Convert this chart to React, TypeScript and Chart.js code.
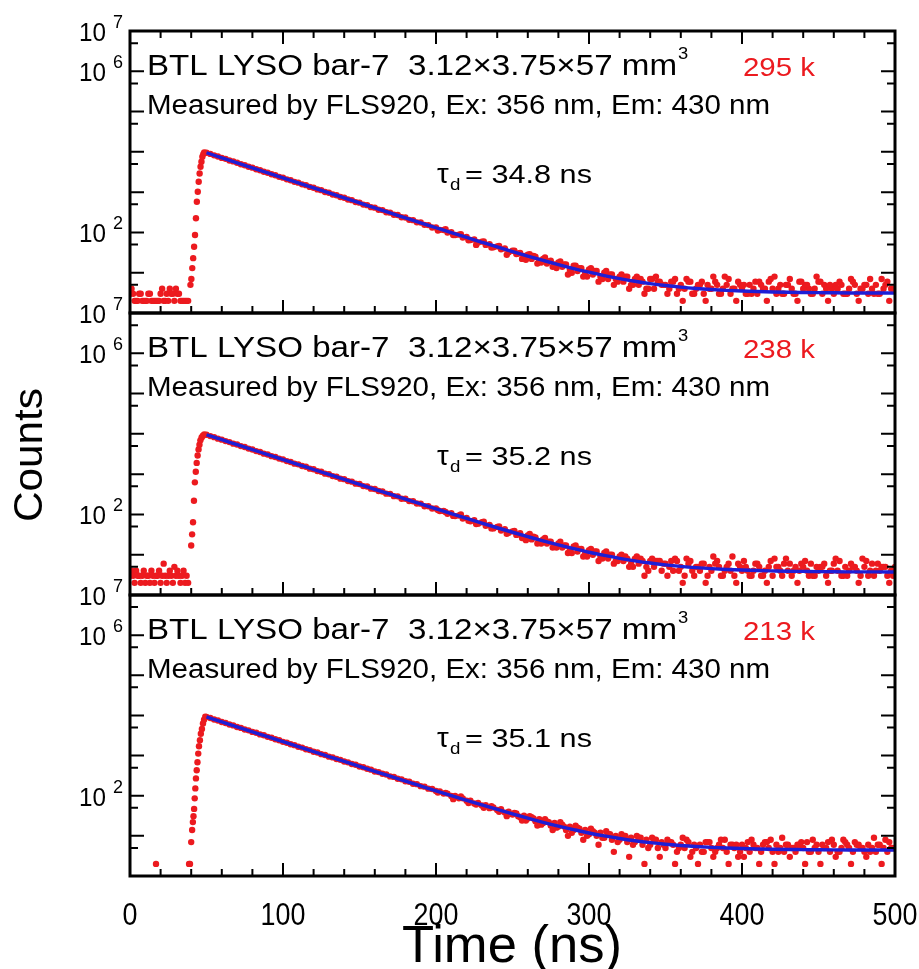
import React, { useEffect, useRef } from 'react';
import { Chart, registerables } from 'chart.js';

Chart.register(...registerables);

// ---------------- data ----------------
const panelCounts = ['295 k', '238 k', '213 k'];
const panelTaus = ['34.8', '35.2', '35.1'];
const yLabelExponents = [7, 6, 2];
const xTickLabels = [0, 100, 200, 300, 400, 500];

// time grid of the decaying part (ns)
const decayTime = [
  50, 52.5, 55, 57.5, 60, 62.5, 65, 67.5, 70, 72.5, 75, 77.5, 80, 82.5, 85, 87.5, 90, 92.5, 95, 97.5,
  100, 102.5, 105, 107.5, 110, 112.5, 115, 117.5, 120, 122.5, 125, 127.5, 130, 132.5, 135, 137.5, 140, 142.5, 145, 147.5,
  150, 152.5, 155, 157.5, 160, 162.5, 165, 167.5, 170, 172.5, 175, 177.5, 180, 182.5, 185, 187.5, 190, 192.5, 195, 197.5,
  200, 202.5, 205, 207.5, 210, 212.5, 215, 217.5, 220, 222.5, 225, 227.5, 230, 232.5, 235, 237.5, 240, 242.5, 245, 247.5,
  250, 252.5, 255, 257.5, 260, 262.5, 265, 267.5, 270, 272.5, 275, 277.5, 280, 282.5, 285, 287.5, 290, 292.5, 295, 297.5,
  300, 302.5, 305, 307.5, 310, 312.5, 315, 317.5, 320, 322.5, 325, 327.5, 330, 332.5, 335, 337.5, 340, 342.5, 345, 347.5,
  350, 352.5, 355, 357.5, 360, 362.5, 365, 367.5, 370, 372.5, 375, 377.5, 380, 382.5, 385, 387.5, 390, 392.5, 395, 397.5,
  400, 402.5, 405, 407.5, 410, 412.5, 415, 417.5, 420, 422.5, 425, 427.5, 430, 432.5, 435, 437.5, 440, 442.5, 445, 447.5,
  450, 452.5, 455, 457.5, 460, 462.5, 465, 467.5, 470, 472.5, 475, 477.5, 480, 482.5, 485, 487.5, 490, 492.5, 495, 497.5,
  500,
];

const decayCounts1 = [
  9480, 8900, 8180, 7700, 7080, 6700, 6120, 5790, 5380, 4930, 4660, 4280, 4050, 3700, 3500, 3210, 3040, 2780, 2630, 2400,
  2290, 2080, 1980, 1800, 1720, 1560, 1490, 1350, 1290, 1170, 1120, 1010, 970, 875, 840, 755, 728, 655, 632, 566,
  548, 490, 476, 424, 412, 366, 358, 318, 310, 274, 270, 238, 234, 205, 202, 178, 176, 154, 152, 133,
  132, 116, 115, 100, 101, 86, 88, 75, 77, 65, 67, 56, 59, 49, 51, 43, 45, 38, 40, 32,
  35, 29, 31, 26, 28, 22, 25, 20, 22, 17, 20, 16, 18, 14, 16, 12, 15, 11, 13, 10,
  12, 9, 11, 8, 10, 7, 9, 7, 8, 6, 8, 5, 7, 5, 6, 4, 7, 4, 6, 5,
  5, 4, 6, 3, 5, 4, 6, 3, 4, 5, 3, 5, 4, 6, 3, 4, 5, 3, 4, 6,
  4, 3, 5, 4, 3, 5, 4, 6, 4, 3, 5, 3, 5, 4, 3, 6, 4, 5, 3, 4,
  6, 3, 4, 5, 3, 4, 5, 3, 4, 6, 3, 4, 5, 3, 4, 5, 3, 4, 6, 4,
  4,
];

const decayCounts2 = [
  9520, 8790, 8290, 7610, 7180, 6610, 6250, 5720, 5420, 4960, 4700, 4300, 4090, 3730, 3540, 3230, 3080, 2800, 2670, 2430,
  2320, 2110, 2010, 1820, 1750, 1590, 1520, 1370, 1320, 1190, 1145, 1030, 995, 895, 862, 774, 752, 672, 652, 580,
  568, 505, 492, 437, 428, 380, 372, 328, 324, 284, 281, 246, 244, 214, 212, 186, 185, 160, 160, 140,
  141, 121, 122, 104, 108, 91, 94, 79, 82, 68, 72, 59, 64, 52, 55, 45, 49, 40, 43, 35,
  38, 31, 34, 27, 30, 24, 27, 21, 24, 19, 21, 16, 19, 15, 17, 13, 16, 12, 14, 11,
  13, 10, 12, 9, 11, 8, 10, 7, 9, 7, 8, 6, 8, 6, 7, 5, 7, 5, 7, 4,
  6, 5, 4, 7, 5, 3, 6, 4, 5, 4, 6, 3, 4, 6, 5, 3, 5, 4, 3, 6,
  4, 5, 3, 4, 6, 3, 4, 5, 3, 5, 4, 6, 4, 3, 5, 4, 5, 4, 6, 3,
  4, 5, 3, 4, 6, 4, 3, 5, 4, 5, 4, 3, 5, 3, 6, 4, 4, 5, 3, 4,
  5,
];

const decayCounts3 = [
  9150, 8620, 7900, 7480, 6880, 6490, 5960, 5640, 5170, 4890, 4480, 4250, 3890, 3690, 3370, 3200, 2930, 2780, 2540, 2410,
  2200, 2090, 1910, 1820, 1660, 1580, 1440, 1370, 1250, 1190, 1085, 1035, 940, 900, 818, 782, 709, 678, 618, 590,
  535, 512, 468, 446, 402, 388, 352, 338, 303, 294, 265, 256, 230, 222, 199, 194, 173, 168, 150, 147,
  131, 128, 113, 113, 99, 98, 86, 86, 75, 75, 64, 66, 57, 58, 49, 51, 44, 46, 38, 40,
  34, 36, 29, 32, 27, 29, 23, 26, 21, 23, 18, 21, 17, 19, 14, 17, 14, 16, 12, 14,
  11, 13, 10, 12, 9, 11, 8, 10, 8, 10, 7, 9, 7, 9, 6, 8, 6, 8, 5, 7,
  5, 7, 6, 4, 6, 5, 7, 4, 5, 6, 4, 7, 5, 4, 6, 5, 4, 6, 5, 3,
  6, 5, 4, 6, 5, 4, 7, 5, 4, 6, 5, 4, 6, 5, 4, 6, 5, 7, 4, 5,
  4, 6, 5, 4, 6, 4, 5, 7, 5, 4, 6, 5, 4, 6, 5, 4, 6, 5, 4, 5,
  5,
];

// extra (interleaved) channels in the noisy tail
const tailTime = [
  201.25, 206.25, 211.25, 216.25, 221.25, 226.25, 231.25, 236.25, 241.25, 246.25,
  251.25, 256.25, 261.25, 266.25, 271.25, 276.25, 281.25, 286.25, 291.25, 296.25,
  301.25, 306.25, 311.25, 316.25, 321.25, 326.25, 331.25, 336.25, 341.25, 346.25,
  351.25, 356.25, 361.25, 366.25, 371.25, 376.25, 381.25, 386.25, 391.25, 396.25,
  401.25, 406.25, 411.25, 416.25, 421.25, 426.25, 431.25, 436.25, 441.25, 446.25,
  451.25, 456.25, 461.25, 466.25, 471.25, 476.25, 481.25, 486.25, 491.25, 496.25,
];
const tailCounts1 = [
  112, 121, 86, 90, 64, 49, 60, 42, 46, 28,
  35, 22, 29, 17, 24, 14, 19, 9, 15, 8,
  13, 6, 11, 5, 9, 4, 8, 3, 7, 6,
  3, 7, 2, 6, 5, 2, 8, 3, 7, 2,
  5, 3, 6, 2, 8, 3, 7, 2, 5, 3,
  6, 2, 5, 3, 7, 2, 5, 3, 7, 2,
];
const tailCounts2 = [
  128, 115, 92, 100, 70, 58, 66, 45, 50, 33,
  39, 26, 33, 19, 26, 15, 21, 11, 17, 9,
  14, 7, 12, 6, 10, 5, 9, 3, 8, 7,
  3, 8, 2, 7, 5, 2, 9, 3, 6, 2,
  7, 3, 5, 2, 8, 3, 6, 2, 7, 3,
  5, 2, 8, 3, 6, 2, 7, 3, 5, 2,
];
const tailCounts3 = [
  120, 118, 82, 96, 66, 60, 50, 55, 40, 31,
  37, 24, 31, 18, 26, 14, 22, 10, 18, 8,
  15, 6, 13, 4, 11, 3, 10, 2, 9, 3,
  8, 2, 9, 3, 2, 7, 3, 8, 2, 6,
  3, 8, 2, 7, 2, 9, 3, 6, 2, 8,
  2, 7, 3, 8, 2, 6, 3, 9, 2, 7,
];

// a second set of interleaved tail channels
const tailTimeB = [
  253.75, 258.75, 263.75, 268.75, 273.75, 278.75, 283.75, 288.75, 293.75, 298.75,
  303.75, 308.75, 313.75, 318.75, 323.75, 328.75, 333.75, 338.75, 343.75, 348.75,
  353.75, 358.75, 363.75, 368.75, 373.75, 378.75, 383.75, 388.75, 393.75, 398.75,
  403.75, 408.75, 413.75, 418.75, 423.75, 428.75, 433.75, 438.75, 443.75, 448.75,
  453.75, 458.75, 463.75, 468.75, 473.75, 478.75, 483.75, 488.75, 493.75, 498.75,
];
const tailCountsB1 = [
  30, 21, 26, 18, 19, 13, 16, 10, 13, 8,
  11, 7, 9, 6, 8, 5, 7, 4, 8, 5,
  6, 4, 7, 3, 6, 4, 5, 8, 4, 5,
  3, 6, 4, 7, 4, 5, 3, 6, 4, 8,
  5, 4, 6, 3, 5, 4, 7, 3, 5, 4,
];
const tailCountsB2 = [
  32, 23, 28, 19, 21, 15, 17, 11, 14, 9,
  12, 8, 10, 7, 9, 5, 8, 4, 7, 6,
  7, 4, 8, 3, 6, 5, 7, 4, 9, 5,
  4, 6, 3, 7, 5, 8, 4, 6, 3, 5,
  6, 4, 7, 3, 5, 8, 4, 6, 5, 3,
];
const tailCountsB3 = [
  31, 24, 27, 19, 22, 16, 17, 12, 15, 10,
  12, 9, 11, 7, 10, 6, 9, 5, 8, 6,
  7, 5, 8, 6, 4, 7, 5, 8, 6, 4,
  7, 5, 6, 8, 4, 6, 5, 7, 4, 6,
  5, 8, 4, 6, 7, 5, 4, 6, 8, 5,
];

// background + rising edge
const earlyTime1 = [
  0, 1, 2, 3, 4, 5, 6, 7, 8, 9, 10, 11, 12, 13, 14, 15, 16, 17, 18, 19,
  20, 21, 22, 23, 24, 25, 26, 27, 28, 29, 30, 31, 32, 33, 34, 35, 36, 37, 38,
  39.5, 40.1, 40.7, 41.3, 41.9, 42.5, 43.1, 43.7, 44.3, 44.9, 45.5, 46.1, 46.7, 47.3, 47.9, 48.5,
];
const earlyCounts1 = [
  3, 4, 3, 2, 2, 2, 3, 3, 2, 2, 2, 2, 3, 3, 2, 2, 2, 2, 2, 2,
  3, 4, 2, 2, 3, 2, 4, 3, 3, 2, 4, 3, 3, 2, 2, 2, 2, 2, 2,
  5, 7, 13, 23, 44, 86, 224, 578, 1020, 1810, 2900, 4270, 5700, 7550, 8800, 9700,
];
const earlyTime2 = [
  0, 1, 2, 3, 4, 5, 6, 7, 8, 9, 10, 11, 12, 13, 14, 15, 16, 17, 18, 19,
  20, 21, 22, 23, 24, 25, 26, 27, 28, 29, 30, 31, 32, 33, 34, 35, 36, 37, 38,
  40.0, 40.6, 41.2, 41.8, 42.4, 43.0, 43.6, 44.2, 44.8, 45.4, 46.0, 46.8, 47.6, 48.5,
];
const earlyCounts2 = [
  3, 4, 3, 2, 4, 3, 3, 2, 3, 4, 2, 3, 3, 2, 4, 3, 2, 3, 3, 4,
  2, 3, 6, 3, 2, 3, 4, 3, 2, 5, 3, 4, 3, 2, 3, 4, 2, 3, 2,
  17, 32, 64, 219, 626, 1150, 1900, 2900, 4100, 5400, 6900, 8100, 9000, 9700,
];
const earlyTime3 = [
  17, 38.6, 39.2, 40.0, 40.6, 41.1, 41.5, 41.9, 42.3, 42.7, 43.1, 43.6, 44.1, 44.6, 45.1,
  45.7, 46.3, 47.0, 47.7, 48.4, 49.2,
];
const earlyCounts3 = [
  2, 2, 2, 7, 14, 22, 31, 47, 86, 152, 270, 430, 680, 1120, 1700,
  2400, 3500, 4600, 6300, 7800, 9300,
];

// single-exponential fits
const fitTime = [
  50, 60, 70, 80, 90, 100, 110, 120, 130, 140, 150, 160, 170, 180, 190, 200, 210, 220, 230, 240,
  250, 260, 270, 280, 290, 300, 310, 320, 330, 340, 350, 360, 370, 380, 390, 400, 410, 420, 430, 440,
  450, 460, 470, 480, 490, 500,
];
const fitCounts1 = [
  9503, 7130, 5350, 4015, 3013, 2261, 1697, 1274, 957, 718.5, 540, 406, 305, 230, 173, 130.7, 98.8, 74.9, 57.0, 43.5,
  33.4, 25.8, 20.2, 15.9, 12.7, 10.3, 8.5, 7.16, 6.14, 5.38, 4.81, 4.38, 4.06, 3.82, 3.64, 3.51, 3.41, 3.33, 3.27, 3.23,
  3.2, 3.17, 3.15, 3.14, 3.13, 3.12,
];
const fitCounts2 = [
  9504, 7156, 5386, 4055, 3054, 2299, 1732, 1304, 982.5, 740.5, 558.3, 421.1, 317.9, 240.2, 181.7, 137.7, 104.5, 79.6, 60.8, 46.7,
  36.1, 28.1, 22.0, 17.5, 14.1, 11.5, 9.59, 8.13, 7.04, 6.21, 5.59, 5.12, 4.77, 4.51, 4.31, 4.16, 4.04, 3.96, 3.89, 3.85,
  3.81, 3.78, 3.76, 3.75, 3.74, 3.73,
];
const fitCounts3 = [
  9204, 6925, 5207, 3918, 2947, 2218, 1669, 1256, 946.3, 712.8, 537.2, 405.1, 305.8, 231.0, 174.9, 132.6, 100.8, 76.9, 58.9, 45.4,
  35.2, 27.6, 21.8, 17.5, 14.3, 11.8, 9.98, 8.6, 7.56, 6.78, 6.19, 5.74, 5.41, 5.16, 4.97, 4.83, 4.72, 4.64, 4.58, 4.54,
  4.5, 4.48, 4.46, 4.45, 4.43, 4.43,
];

const panels = [
  { decay: decayCounts1, tail: tailCounts1, tailB: tailCountsB1, earlyT: earlyTime1, earlyC: earlyCounts1, fit: fitCounts1 },
  { decay: decayCounts2, tail: tailCounts2, tailB: tailCountsB2, earlyT: earlyTime2, earlyC: earlyCounts2, fit: fitCounts2 },
  { decay: decayCounts3, tail: tailCounts3, tailB: tailCountsB3, earlyT: earlyTime3, earlyC: earlyCounts3, fit: fitCounts3 },
];

// ---------------- layout / style ----------------
const W = 919;
const H = 969;
const PLOT_LEFT = 130;
const PLOT_RIGHT = 895;
const PANEL_TOP = [31, 313, 595];
const PANEL_BOTTOM = [313, 595, 876];
const RED = '#ec1a1f';
const BLUE = '#1e1ed6';
const FONT = '"Liberation Sans", Arial, Helvetica, sans-serif';

type TOpts = { size: number; color?: string; width?: number; sx?: number; align?: 'left' | 'center' | 'right' };

function drawText(ctx: CanvasRenderingContext2D, s: string, x: number, y: number, o: TOpts) {
  ctx.save();
  ctx.font = `${o.size}px ${FONT}`;
  ctx.fillStyle = o.color || '#000';
  ctx.textAlign = 'left';
  ctx.textBaseline = 'alphabetic';
  const w = ctx.measureText(s).width;
  const sx = o.width ? o.width / w : o.sx || 1;
  const tw = w * sx;
  let x0 = x;
  if (o.align === 'center') x0 = x - tw / 2;
  else if (o.align === 'right') x0 = x - tw;
  ctx.translate(x0, y);
  ctx.scale(sx, 1);
  ctx.fillText(s, 0, 0);
  ctx.restore();
}

function makeDecor(idx: number) {
  return {
    id: 'decor' + idx,
    afterDatasetsDraw(chart: any) {
      const ctx: CanvasRenderingContext2D = chart.ctx;
      const xs = chart.scales.x;
      const ys = chart.scales.y;
      const a = chart.chartArea;
      const T = a.top;
      ctx.save();
      ctx.strokeStyle = '#000';
      ctx.lineCap = 'butt';
      // ticks
      ctx.lineWidth = 2;
      ctx.beginPath();
      for (let k = 0; k <= 7; k++) {
        const py = ys.getPixelForValue(Math.pow(10, k));
        ctx.moveTo(a.left, py); ctx.lineTo(a.left + 14, py);
        ctx.moveTo(a.right, py); ctx.lineTo(a.right - 14, py);
        if (k < 7) {
          const pm = ys.getPixelForValue(5 * Math.pow(10, k));
          ctx.moveTo(a.left, pm); ctx.lineTo(a.left + 8, pm);
          ctx.moveTo(a.right, pm); ctx.lineTo(a.right - 8, pm);
        }
      }
      for (let v = 0; v <= 500; v += 20) {
        const px = xs.getPixelForValue(v);
        const len = v % 100 === 0 ? 13 : 7;
        ctx.moveTo(px, a.bottom); ctx.lineTo(px, a.bottom - len);
        if (idx === 0) { ctx.moveTo(px, a.top); ctx.lineTo(px, a.top + len); }
      }
      ctx.stroke();
      // frame
      ctx.lineWidth = 3;
      ctx.strokeRect(a.left, a.top, a.right - a.left, a.bottom - a.top);
      ctx.restore();

      // y tick labels
      for (const e of yLabelExponents) {
        const py = ys.getPixelForValue(Math.pow(10, e));
        drawText(ctx, '10', 106, py + 10, { size: 25, align: 'right', sx: 0.97 });
        drawText(ctx, String(e), 113, py - 3, { size: 18 });
      }

      // annotations
      drawText(ctx, 'BTL LYSO bar-7  3.12\u00d73.75\u00d757 mm', 147, T + 44, { size: 30, width: 530 });
      drawText(ctx, '3', 678, T + 28, { size: 17, sx: 1.08 });
      drawText(ctx, panelCounts[idx], 743, T + 45, { size: 26, width: 72, color: RED });
      drawText(ctx, 'Measured by FLS920, Ex: 356 nm, Em: 430 nm', 147, T + 83, { size: 27, width: 623 });
      drawText(ctx, '\u03c4', 437, T + 152, { size: 27, sx: 1.1 });
      drawText(ctx, 'd', 450, T + 159, { size: 17, sx: 1.1 });
      drawText(ctx, '= ' + panelTaus[idx] + ' ns', 465, T + 152, { size: 26, width: 127 });

      if (idx === 2) {
        for (const v of xTickLabels) {
          drawText(ctx, String(v), xs.getPixelForValue(v), a.bottom + 49, { size: 32, sx: 0.84, align: 'center' });
        }
        drawText(ctx, 'Time (ns)', 512, 962, { size: 52, width: 220, align: 'center' });
      }
      if (idx === 1) {
        ctx.save();
        ctx.translate(42, 455);
        ctx.rotate(-Math.PI / 2);
        drawText(ctx, 'Counts', 0, 0, { size: 40, width: 134, align: 'center' });
        ctx.restore();
      }
    },
  };
}

function pts(t: number[], c: number[]) {
  return t.map((x, i) => ({ x, y: c[i] }));
}

export default function App() {
  const r0 = useRef<HTMLCanvasElement>(null);
  const r1 = useRef<HTMLCanvasElement>(null);
  const r2 = useRef<HTMLCanvasElement>(null);

  useEffect(() => {
    const refs = [r0, r1, r2];
    const charts = refs.map((ref, i) => {
      const p = panels[i];
      const dot = { backgroundColor: RED, borderWidth: 0, pointRadius: 3.2, showLine: false, order: 1 };
      return new Chart(ref.current as HTMLCanvasElement, {
        type: 'scatter',
        data: {
          datasets: [
            {
              type: 'line',
              data: pts(fitTime, p.fit),
              borderColor: BLUE,
              borderWidth: 3.4,
              pointRadius: 0,
              showLine: true,
              fill: false,
              cubicInterpolationMode: 'monotone',
              order: 0,
            } as any,
            { data: pts(decayTime, p.decay), ...dot } as any,
            { data: pts(tailTime, p.tail), ...dot } as any,
            { data: pts(tailTimeB, p.tailB), ...dot } as any,
            { data: pts(p.earlyT, p.earlyC), ...dot } as any,
          ],
        },
        options: {
          responsive: false,
          animation: false,
          devicePixelRatio: 1,
          events: [],
          layout: { padding: { left: PLOT_LEFT, right: W - PLOT_RIGHT, top: PANEL_TOP[i], bottom: H - PANEL_BOTTOM[i] } },
          scales: {
            x: { type: 'linear', min: 0, max: 500, display: false },
            y: { type: 'logarithmic', min: 1, max: 1e7, display: false },
          },
          plugins: { legend: { display: false }, tooltip: { enabled: false } },
        },
        plugins: [makeDecor(i)],
      });
    });
    return () => charts.forEach((c) => c.destroy());
  }, []);

  const cs: React.CSSProperties = { position: 'absolute', left: 0, top: 0, width: W, height: H };
  return (
    <div style={{ position: 'absolute', left: 0, top: 0, width: W, height: H, background: '#fff', overflow: 'hidden' }}>
      <canvas ref={r0} width={W} height={H} style={cs} />
      <canvas ref={r1} width={W} height={H} style={cs} />
      <canvas ref={r2} width={W} height={H} style={cs} />
    </div>
  );
}
